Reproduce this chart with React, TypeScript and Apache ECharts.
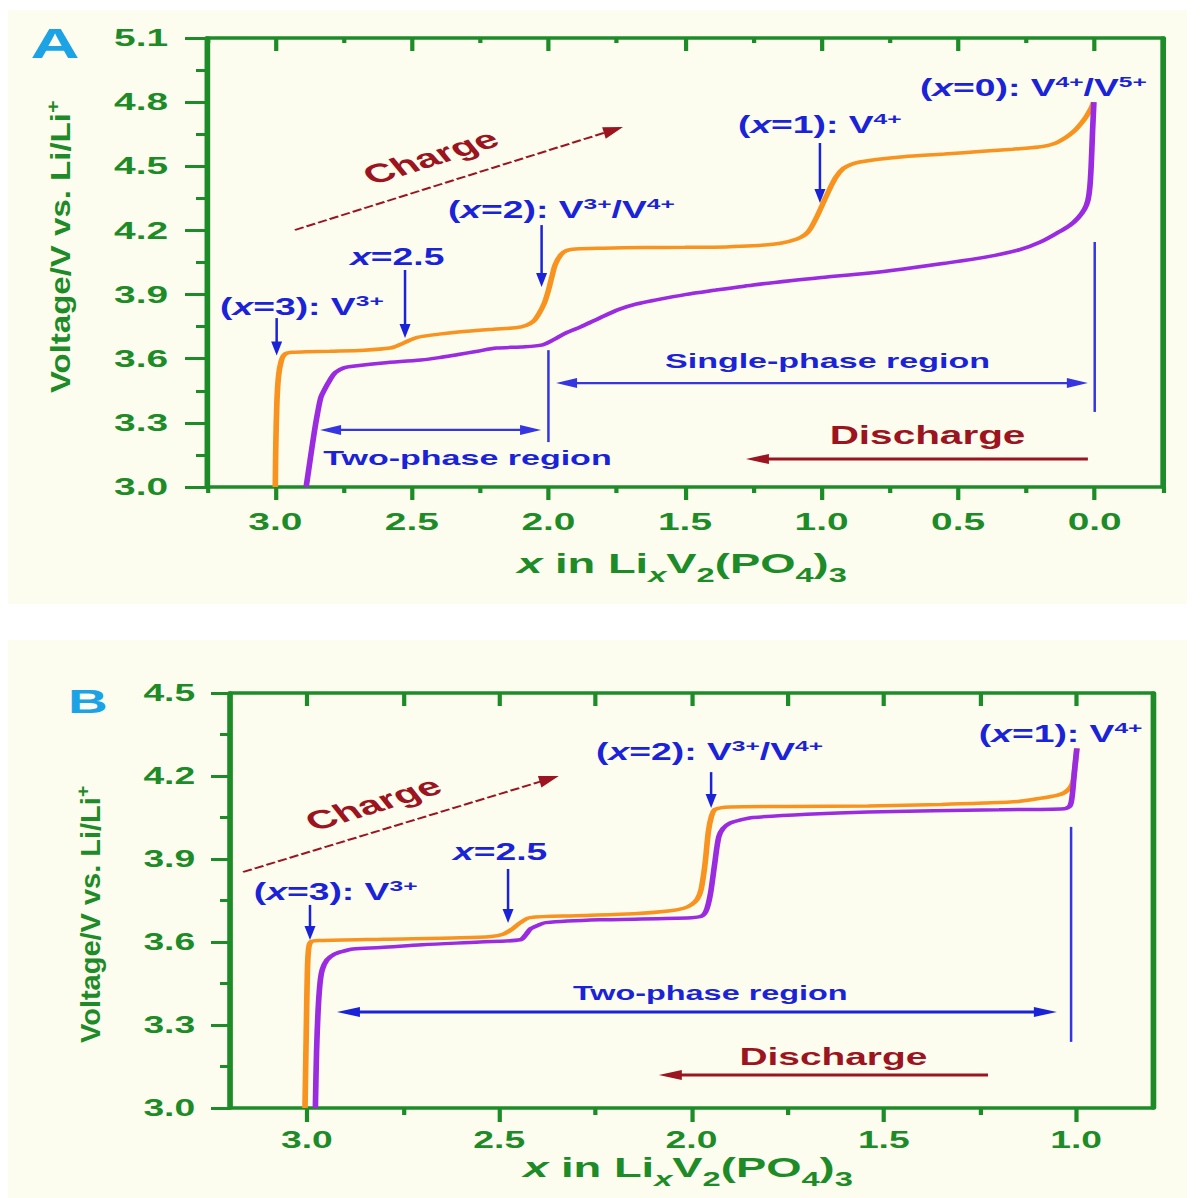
import React, { useEffect, useRef } from "react";
import * as echarts from "echarts";

// The reference figure is horizontally stretched; we draw in a narrower
// coordinate space and stretch the whole chart by S with CSS.
const S = 1.62;
const PAGE_W = 1202;
const PAGE_H = 1198;
const FAMILY = '"Liberation Sans", Arial, Helvetica, sans-serif';
const GREEN = "#1d8c28";
const ORANGE = "#f7931e";
const PURPLE = "#9b2be0";
const BLUE = "#1b23d8";
const BLUE_LINE = "#3535e2";
const RED = "#9c1420";
const CREAM = "#fdfdef";
const LETTER = "#1ca3e6";

// ---------- Panel A data: x in LixV2(PO4)3 vs voltage ----------
const chargeA: [number, number][] = [
  [3.0, 3.0], [2.998, 3.2], [2.994, 3.4], [2.988, 3.52], [2.978, 3.59], [2.966, 3.62],
  [2.94, 3.63], [2.887, 3.632], [2.8, 3.635], [2.675, 3.64], [2.58, 3.65], [2.545, 3.665],
  [2.51, 3.685], [2.48, 3.7], [2.4, 3.715], [2.33, 3.725], [2.2, 3.738], [2.12, 3.745],
  [2.08, 3.757], [2.055, 3.775], [2.035, 3.81], [2.015, 3.86], [2.0, 3.92], [1.988, 3.98],
  [1.975, 4.04], [1.955, 4.085], [1.935, 4.105], [1.9, 4.113], [1.8, 4.117], [1.65, 4.12],
  [1.5, 4.121], [1.35, 4.123], [1.25, 4.128], [1.15, 4.14], [1.09, 4.16], [1.06, 4.18],
  [1.04, 4.21], [1.015, 4.27], [0.99, 4.34], [0.968, 4.4], [0.947, 4.45], [0.92, 4.49],
  [0.89, 4.51], [0.86, 4.52], [0.8, 4.532], [0.7, 4.545], [0.55, 4.557], [0.41, 4.57],
  [0.3, 4.58], [0.205, 4.59], [0.15, 4.605], [0.106, 4.635], [0.075, 4.665], [0.05, 4.7],
  [0.03, 4.735], [0.012, 4.775], [0.004, 4.8],
];
const dischargeA: [number, number][] = [
  [0.003, 4.8], [0.008, 4.66], [0.013, 4.5], [0.018, 4.4], [0.025, 4.34], [0.037, 4.3],
  [0.06, 4.26], [0.09, 4.225], [0.135, 4.19], [0.2, 4.145], [0.274, 4.11], [0.4, 4.075],
  [0.556, 4.045], [0.7, 4.02], [0.833, 4.0], [1.0, 3.98], [1.115, 3.965], [1.25, 3.945],
  [1.393, 3.92], [1.5, 3.9], [1.605, 3.875], [1.68, 3.855], [1.743, 3.83], [1.813, 3.79],
  [1.88, 3.75], [1.937, 3.72], [1.98, 3.69], [2.021, 3.665], [2.1, 3.655], [2.19, 3.65],
  [2.26, 3.635], [2.33, 3.62], [2.4, 3.605], [2.467, 3.594], [2.606, 3.58], [2.7, 3.567],
  [2.749, 3.557], [2.78, 3.535], [2.8, 3.5], [2.82, 3.455], [2.833, 3.42], [2.846, 3.34],
  [2.858, 3.25], [2.872, 3.13], [2.887, 3.0],
];

// ---------- Panel B data ----------
const chargeB: [number, number][] = [
  [3.005, 3.0], [3.002, 3.25], [2.999, 3.48], [2.996, 3.57], [2.99, 3.6], [2.97, 3.605],
  [2.8, 3.61], [2.6, 3.615], [2.52, 3.62], [2.49, 3.628], [2.468, 3.645], [2.445, 3.67],
  [2.42, 3.688], [2.3, 3.695], [2.15, 3.702], [2.06, 3.712], [2.02, 3.722], [2.0, 3.735],
  [1.985, 3.755], [1.975, 3.79], [1.965, 3.88], [1.956, 4.0], [1.948, 4.055], [1.94, 4.078],
  [1.925, 4.085], [1.9, 4.088], [1.75, 4.09], [1.54, 4.092], [1.35, 4.097], [1.239, 4.102],
  [1.15, 4.108], [1.09, 4.12], [1.05, 4.13], [1.03, 4.14], [1.015, 4.158], [1.008, 4.18],
  [1.003, 4.23], [0.998, 4.3],
];
const dischargeB: [number, number][] = [
  [0.998, 4.3], [1.004, 4.22], [1.01, 4.13], [1.016, 4.092], [1.03, 4.082], [1.2, 4.078],
  [1.54, 4.07], [1.7, 4.062], [1.84, 4.05], [1.87, 4.042], [1.9, 4.03], [1.918, 4.01],
  [1.929, 3.98], [1.94, 3.88], [1.95, 3.78], [1.96, 3.72], [1.972, 3.695], [2.0, 3.688],
  [2.24, 3.68], [2.379, 3.67], [2.4, 3.66], [2.418, 3.648], [2.43, 3.628], [2.445, 3.608],
  [2.55, 3.6], [2.7, 3.59], [2.808, 3.58], [2.88, 3.575], [2.91, 3.565], [2.93, 3.555],
  [2.948, 3.535], [2.96, 3.5], [2.966, 3.45], [2.971, 3.35], [2.975, 3.2], [2.978, 3.0],
];

// ---------- Axes ----------
const xRangeA = [-0.25, 3.25];
const yRangeA = [3.0, 5.1];
const xRangeB = [0.8, 3.2];
const yRangeB = [3.0, 4.5];
const xMajorA = [3.0, 2.5, 2.0, 1.5, 1.0, 0.5, 0.0];
const xMinorA = [3.25, 2.75, 2.25, 1.75, 1.25, 0.75, 0.25, -0.25];
const xMajorB = [3.0, 2.5, 2.0, 1.5, 1.0];
const xMinorB = [2.75, 2.25, 1.75, 1.25];
const yStep = 0.3;

const fmt = (v: number) => (Math.abs(v) < 1e-9 ? 0 : v).toFixed(1);

function xAxesFor(grid: number, range: number[], majors: number[], minors: number[], c: any) {
  const base = {
    type: "value", gridIndex: grid, min: range[0], max: range[1], inverse: true,
    splitLine: { show: false },
  };
  const tl = { color: GREEN, width: 2.6 };
  return [
    {
      ...base, position: "bottom",
      axisLine: { show: true, onZero: false, lineStyle: { color: GREEN, width: 3.5 } },
      axisTick: { show: true, customValues: majors, length: c.botMaj, lineStyle: tl },
      axisLabel: {
        show: true, customValues: majors, formatter: fmt, margin: c.margin, color: GREEN,
        fontSize: c.fs, fontWeight: "bold", fontFamily: FAMILY,
      },
    },
    {
      ...base, position: "bottom",
      axisLine: { show: false, onZero: false },
      axisTick: { show: true, customValues: minors, length: c.botMin, lineStyle: tl },
      axisLabel: { show: false },
    },
    {
      ...base, position: "top",
      axisLine: { show: true, onZero: false, lineStyle: { color: GREEN, width: 3.5 } },
      axisTick: { show: true, inside: true, customValues: majors, length: c.topMaj, lineStyle: tl },
      axisLabel: { show: false },
    },
    {
      ...base, position: "top",
      axisLine: { show: false, onZero: false },
      axisTick: { show: true, inside: true, customValues: minors, length: c.topMin, lineStyle: tl },
      axisLabel: { show: false },
    },
  ];
}

function yAxesFor(grid: number, range: number[], c: any) {
  return [
    {
      type: "value", gridIndex: grid, min: range[0], max: range[1], interval: yStep, position: "left",
      axisLine: { show: true, onZero: false, lineStyle: { color: GREEN, width: 3.5 } },
      axisTick: { show: true, length: c.maj, lineStyle: { color: GREEN, width: 3 } },
      minorTick: { show: true, splitNumber: 2, length: c.min, lineStyle: { color: GREEN, width: 3 } },
      axisLabel: {
        formatter: fmt, margin: c.margin, color: GREEN, fontSize: c.fs,
        fontWeight: "bold", fontFamily: FAMILY,
      },
      splitLine: { show: false }, minorSplitLine: { show: false },
    },
    {
      type: "value", gridIndex: grid, min: range[0], max: range[1], position: "right",
      axisLine: { show: true, onZero: false, lineStyle: { color: GREEN, width: 3.5 } },
      axisTick: { show: false }, axisLabel: { show: false }, splitLine: { show: false },
    },
  ];
}

function curve(data: [number, number][], color: string, xi: number, yi: number) {
  return {
    type: "line", xAxisIndex: xi, yAxisIndex: yi, data, showSymbol: false, symbol: "none",
    smooth: 0.3, lineStyle: { color, width: 3.5 }, z: 3, silent: true,
  };
}

function buildOption() {
  return {
    animation: false,
    backgroundColor: "transparent",
    textStyle: { fontFamily: FAMILY },
    grid: [
      { left: 207 / S, top: 38, width: (1163 - 207) / S, height: 449, outerBoundsMode: "none" },
      { left: 230 / S, top: 693, width: (1153 - 230) / S, height: 415, outerBoundsMode: "none" },
    ],
    xAxis: [
      ...xAxesFor(0, xRangeA, xMajorA, xMinorA, { botMaj: 13, botMin: 6, topMaj: 13, topMin: 5, margin: 23, fs: 24 }),
      ...xAxesFor(1, xRangeB, xMajorB, xMinorB, { botMaj: 14, botMin: 7, topMaj: 13, topMin: 13, margin: 21, fs: 23 }),
    ],
    yAxis: [
      ...yAxesFor(0, yRangeA, { maj: 22 / S, min: 11 / S, margin: 24, fs: 24 }),
      ...yAxesFor(1, yRangeB, { maj: 19 / S, min: 10 / S, margin: 21.5, fs: 23 }),
    ],
    series: [
      curve(chargeA, ORANGE, 0, 0),
      curve(dischargeA, PURPLE, 0, 0),
      curve(chargeB, ORANGE, 4, 2),
      curve(dischargeB, PURPLE, 4, 2),
    ],
  };
}

// ---------- Annotation helpers ----------
type Seg = { t: string; k?: "sub" | "sup"; it?: boolean };

function textGroup(
  ctx: CanvasRenderingContext2D, segs: Seg[], size: number, color: string,
  x: number, y: number, align: "left" | "center",
  extra: { rotation?: number; sx?: number; sy?: number; middle?: boolean } = {}
) {
  const kids: any[] = [];
  let cx = 0;
  for (const s of segs) {
    const fs = s.k === "sub" ? size * 0.72 : s.k === "sup" ? size * 0.66 : size;
    const shift = s.k === "sub" ? size * 0.3 : s.k === "sup" ? -size * 0.38 : 0;
    const fstyle = s.it ? "italic" : "normal";
    ctx.font = `${fstyle} bold ${fs}px ${FAMILY}`;
    const w = ctx.measureText(s.t).width;
    kids.push({
      type: "text", x: cx, y: shift + (extra.middle ? 0 : -0.34 * fs), z: 100, silent: true,
      style: {
        text: s.t, fill: color, fontSize: fs, fontWeight: "bold", fontStyle: fstyle,
        fontFamily: FAMILY, align: "left", verticalAlign: "middle",
        textAlign: "left", textVerticalAlign: "middle",
      },
    });
    cx += w;
  }
  if (align === "center") for (const k of kids) k.x -= cx / 2;
  return {
    type: "group", x, y, rotation: extra.rotation || 0,
    scaleX: extra.sx || 1, scaleY: extra.sy || 1, children: kids,
  };
}

// Arrow defined between two local points; geometry of heads / thickness in screen px.
function arrow(
  a: number[], b: number[],
  o: { color: string; t: number; hl?: number; hw?: number; both?: boolean; none?: boolean; dash?: number[] }
) {
  const A = [a[0] * S, a[1]];
  const B = [b[0] * S, b[1]];
  const dx = B[0] - A[0], dy = B[1] - A[1];
  const L = Math.hypot(dx, dy) || 1;
  const ux = dx / L, uy = dy / L;
  const hl = o.none ? 0 : o.hl || 14;
  const hw = o.hw || 5;
  const endB = [B[0] - ux * (hl - 1), B[1] - uy * (hl - 1)];
  const startA = o.both ? [A[0] + ux * (hl - 1), A[1] + uy * (hl - 1)] : A;
  const toL = (p: number[]) => [p[0] / S, p[1]];
  const lx = dx / S, ly = dy;
  const ll = Math.hypot(lx, ly) || 1;
  const w = (o.t * Math.sqrt((lx / ll) ** 2 * S * S + (ly / ll) ** 2)) / S;
  const s1 = toL(startA), e1 = toL(o.none ? B : endB);
  const els: any[] = [
    {
      type: "line", z: 100, silent: true,
      shape: { x1: s1[0], y1: s1[1], x2: e1[0], y2: e1[1] },
      style: { stroke: o.color, lineWidth: w, lineDash: o.dash || null },
    },
  ];
  const head = (tip: number[], dirx: number, diry: number) => {
    const base = [tip[0] - dirx * hl, tip[1] - diry * hl];
    const p1 = [base[0] + (-diry) * hw, base[1] + dirx * hw];
    const p2 = [base[0] - (-diry) * hw, base[1] - dirx * hw];
    return {
      type: "polygon", z: 100, silent: true,
      shape: { points: [toL(tip), toL(p1), toL(p2)] },
      style: { fill: o.color },
    };
  };
  if (!o.none) {
    els.push(head(B, ux, uy));
    if (o.both) els.push(head(A, -ux, -uy));
  }
  return els;
}

// Annotation anchors (data units)
const labelsA: { segs: Seg[]; at: number[] }[] = [
  { segs: [{ t: "(" }, { t: "x", it: true }, { t: "=3): V" }, { t: "3+", k: "sup" }], at: [3.202, 3.804] },
  { segs: [{ t: "x", it: true }, { t: "=2.5" }], at: [2.726, 4.038] },
  { segs: [{ t: "(" }, { t: "x", it: true }, { t: "=2): V" }, { t: "3+", k: "sup" }, { t: "/V" }, { t: "4+", k: "sup" }], at: [2.368, 4.258] },
  { segs: [{ t: "(" }, { t: "x", it: true }, { t: "=1): V" }, { t: "4+", k: "sup" }], at: [1.306, 4.656] },
  { segs: [{ t: "(" }, { t: "x", it: true }, { t: "=0): V" }, { t: "4+", k: "sup" }, { t: "/V" }, { t: "5+", k: "sup" }], at: [0.64, 4.829] },
];
const pointersA = [
  [[2.995, 3.79], [2.995, 3.615]],
  [[2.525, 4.015], [2.525, 3.697]],
  [[2.025, 4.225], [2.025, 3.935]],
  [[1.006, 4.609], [1.006, 4.328]],
];
const labelsB: { segs: Seg[]; at: number[] }[] = [
  { segs: [{ t: "(" }, { t: "x", it: true }, { t: "=3): V" }, { t: "3+", k: "sup" }], at: [3.138, 3.752] },
  { segs: [{ t: "x", it: true }, { t: "=2.5" }], at: [2.62, 3.896] },
  { segs: [{ t: "(" }, { t: "x", it: true }, { t: "=2): V" }, { t: "3+", k: "sup" }, { t: "/V" }, { t: "4+", k: "sup" }], at: [2.248, 4.258] },
  { segs: [{ t: "(" }, { t: "x", it: true }, { t: "=1): V" }, { t: "4+", k: "sup" }], at: [1.253, 4.323] },
];
const pointersB = [
  [[2.992, 3.734], [2.992, 3.607]],
  [[2.477, 3.864], [2.477, 3.669]],
  [[1.949, 4.214], [1.949, 4.084]],
];

const xTitle: Seg[] = [
  { t: "x", it: true }, { t: " in Li" }, { t: "x", it: true, k: "sub" }, { t: "V" },
  { t: "2", k: "sub" }, { t: "(PO" }, { t: "4", k: "sub" }, { t: ")" }, { t: "3", k: "sub" },
];
const yTitle: Seg[] = [{ t: "Voltage/V vs. Li/Li" }, { t: "+", k: "sup" }];

function buildGraphics(chart: any, ctx: CanvasRenderingContext2D) {
  const pA = (p: number[]) => chart.convertToPixel({ xAxisIndex: 0, yAxisIndex: 0 }, p) as number[];
  const pB = (p: number[]) => chart.convertToPixel({ xAxisIndex: 4, yAxisIndex: 2 }, p) as number[];
  const els: any[] = [];

  // panel backgrounds
  els.push({ type: "rect", z: -100, silent: true, shape: { x: 8 / S, y: 10, width: (1187 - 8) / S, height: 594 }, style: { fill: CREAM } });
  els.push({ type: "rect", z: -100, silent: true, shape: { x: 8 / S, y: 640, width: (1187 - 8) / S, height: PAGE_H - 640 }, style: { fill: CREAM } });

  // panel letters
  els.push(textGroup(ctx, [{ t: "A" }], 42, LETTER, 55 / S, 58, "center"));
  els.push(textGroup(ctx, [{ t: "B" }], 34, LETTER, 88 / S, 713, "center"));

  // axis titles
  els.push(textGroup(ctx, xTitle, 28, GREEN, 682 / S, 573, "center"));
  els.push(textGroup(ctx, xTitle, 28, GREEN, 688 / S, 1177, "center"));
  els.push(textGroup(ctx, yTitle, 24, GREEN, 70 / S, 393, "left", { rotation: Math.PI / 2, sx: 33 / 24, sy: 17.5 / 24 }));
  els.push(textGroup(ctx, yTitle, 24, GREEN, 100 / S, 1043, "left", { rotation: Math.PI / 2, sx: 29 / 24, sy: 17.5 / 24 }));

  // ---- Panel A ----
  for (const l of labelsA) { const p = pA(l.at); els.push(textGroup(ctx, l.segs, 23, BLUE, p[0], p[1], "left")); }
  for (const a of pointersA) els.push(...arrow(pA(a[0]), pA(a[1]), { color: BLUE, t: 2.5, hl: 14, hw: 5.5 }));
  {
    const a = pA([2.928, 4.202]), b = pA([1.727, 4.684]);
    els.push(...arrow(a, b, { color: RED, t: 2, hl: 20, hw: 6, dash: [6, 2] }));
    const ang = Math.atan2(a[1] - b[1], b[0] - a[0]);
    const c = pA([2.432, 4.545]);
    els.push(textGroup(ctx, [{ t: "Charge" }], 26, RED, c[0], c[1], "center", { rotation: ang, middle: true }));
  }
  {
    const c = pA([0.978, 3.556]);
    els.push(textGroup(ctx, [{ t: "Single-phase region" }], 21, BLUE, c[0], c[1], "center"));
    els.push(...arrow(pA([1.972, 3.486]), pA([0.025, 3.486]), { color: BLUE_LINE, t: 2.2, hl: 21, hw: 5, both: true }));
    els.push(...arrow(pA([0.0, 4.146]), pA([0.0, 3.351]), { color: BLUE_LINE, t: 2.5, none: true }));
    els.push(...arrow(pA([2.0, 3.64]), pA([2.0, 3.21]), { color: BLUE_LINE, t: 2.5, none: true }));
    const c2 = pA([2.296, 3.103]);
    els.push(textGroup(ctx, [{ t: "Two-phase region" }], 21, BLUE, c2[0], c2[1], "center"));
    els.push(...arrow(pA([2.836, 3.267]), pA([2.027, 3.267]), { color: BLUE_LINE, t: 2.2, hl: 21, hw: 5, both: true }));
    const c3 = pA([0.612, 3.201]);
    els.push(textGroup(ctx, [{ t: "Discharge" }], 25, RED, c3[0], c3[1], "center"));
    els.push(...arrow(pA([0.025, 3.131]), pA([1.277, 3.131]), { color: RED, t: 3, hl: 23, hw: 5 }));
  }

  // ---- Panel B ----
  for (const l of labelsB) { const p = pB(l.at); els.push(textGroup(ctx, l.segs, 23, BLUE, p[0], p[1], "left")); }
  for (const a of pointersB) els.push(...arrow(pB(a[0]), pB(a[1]), { color: BLUE, t: 2.5, hl: 14, hw: 5.5 }));
  {
    const a = pB([3.166, 3.853]), b = pB([2.345, 4.2]);
    els.push(...arrow(a, b, { color: RED, t: 2, hl: 20, hw: 6, dash: [6, 2] }));
    const ang = Math.atan2(a[1] - b[1], b[0] - a[0]);
    const c = pB([2.828, 4.101]);
    els.push(textGroup(ctx, [{ t: "Charge" }], 26, RED, c[0], c[1], "center", { rotation: ang, middle: true }));
  }
  {
    const c = pB([1.951, 3.39]);
    els.push(textGroup(ctx, [{ t: "Two-phase region" }], 20, BLUE, c[0], c[1], "center"));
    els.push(...arrow(pB([2.922, 3.347]), pB([1.05, 3.347]), { color: BLUE, t: 3, hl: 23, hw: 5, both: true }));
    els.push(...arrow(pB([1.013, 4.016]), pB([1.013, 3.239]), { color: BLUE_LINE, t: 2.5, none: true }));
    const c3 = pB([1.631, 3.156]);
    els.push(textGroup(ctx, [{ t: "Discharge" }], 24, RED, c3[0], c3[1], "center"));
    els.push(...arrow(pB([1.229, 3.119]), pB([2.085, 3.119]), { color: RED, t: 3, hl: 23, hw: 5 }));
  }
  return els;
}

export default function App() {
  const ref = useRef<HTMLDivElement>(null);
  useEffect(() => {
    const el = ref.current;
    if (!el) return;
    const chart = echarts.init(el, null, { renderer: "svg" });
    chart.setOption(buildOption() as any);
    const canvas = document.createElement("canvas");
    const ctx = canvas.getContext("2d") as CanvasRenderingContext2D;
    chart.setOption({ graphic: { elements: buildGraphics(chart, ctx) } } as any);
    return () => chart.dispose();
  }, []);
  return (
    <div
      ref={ref}
      style={{
        position: "fixed", left: 0, top: 0, width: PAGE_W / S, height: PAGE_H,
        transform: `scaleX(${S})`, transformOrigin: "0 0", background: "#ffffff",
      }}
    />
  );
}
